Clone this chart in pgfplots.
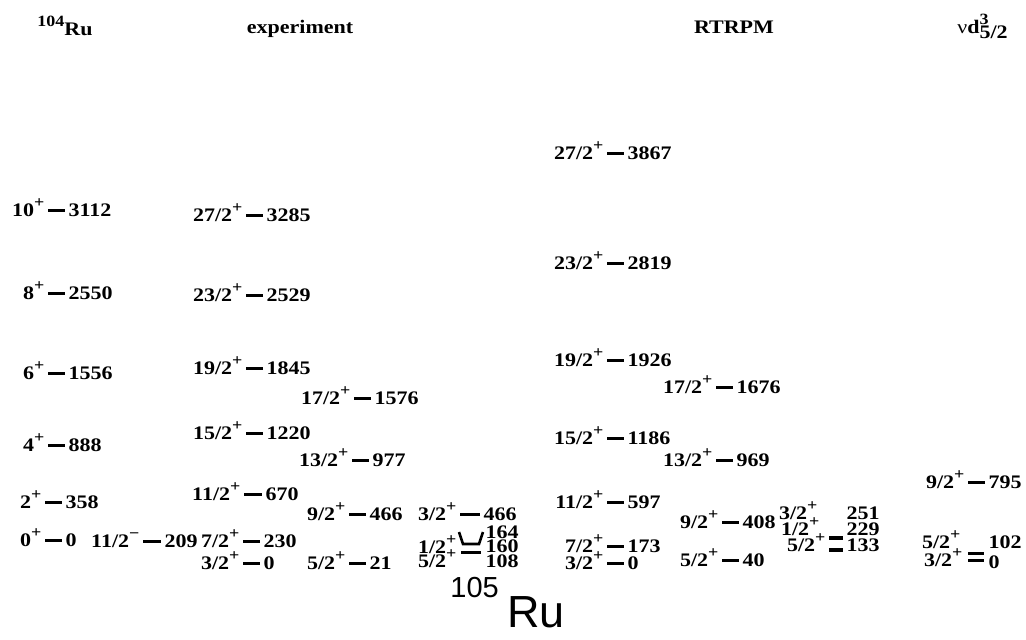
\documentclass[border=0pt]{standalone}
\usepackage{fontspec}
\setmainfont{Liberation Serif}
\newfontfamily\sansRu{Liberation Sans}
\usepackage{graphicx}
\usepackage{pgfplots}
\pgfplotsset{compat=1.18}

% text of the scheme is bold Times, slightly squat
\newcommand{\T}[1]{\scalebox{1}[0.87]{#1}}
\newcommand{\up}[1]{\raisebox{0.45em}{\fontsize{9}{9}\selectfont #1}}
\tikzset{
  lvl/.style={line width=1.5pt, black},
  spin/.style={anchor=base east, inner sep=0pt, xshift=-1.6pt, yshift=-3.2pt,
               font=\bfseries\fontsize{11}{12}\selectfont},
  ener/.style={anchor=base west, inner sep=0pt, xshift=1.6pt, yshift=-3.2pt,
               font=\bfseries\fontsize{11}{12}\selectfont},
}
% \lev{x1}{x2}{y}{J}{parity}{E}: one level, positions in picture pixels
\newcommand{\lev}[6]{%
  \addplot[lvl] coordinates {(#1,#3) (#2,#3)};
  \node[spin] at (axis cs:#1,#3) {\T{#4\up{#5}}};
  \node[ener] at (axis cs:#2,#3) {\T{#6}};
}

\begin{document}
\begin{tikzpicture}
\begin{axis}[
    width=513pt, height=319.5pt,
    scale only axis,
    xmin=0, xmax=1026,
    ymin=0, ymax=639,
    y dir=reverse,
    hide axis,
    clip=false,
]
\addplot[draw=none] coordinates {(0,0) (1026,639)};

% column headers
\node[anchor=base west, inner sep=0pt, font=\bfseries\fontsize{11}{12}\selectfont]
    at (axis cs:37,35) {\T{\up{104}Ru}};
\node[anchor=base, inner sep=0pt, font=\bfseries\fontsize{11}{12}\selectfont]
    at (axis cs:300,33) {\T{experiment}};
\node[anchor=base, inner sep=0pt, font=\bfseries\fontsize{11}{12}\selectfont]
    at (axis cs:734,33) {\T{RTRPM}};
\node[anchor=base west, inner sep=0pt, font=\bfseries\fontsize{11}{12}\selectfont]
    at (axis cs:957,33) {\T{{\mdseries ν}d\rlap{\up{3}}\raisebox{-0.3em}{5/2}}};

% 104Ru
\lev{48}{65}{210}{10}{+}{3112}
\lev{48}{65}{293}{8}{+}{2550}
\lev{48}{65}{373}{6}{+}{1556}
\lev{48}{65}{445}{4}{+}{888}
\lev{45}{62}{502}{2}{+}{358}
\lev{45}{62}{540}{0}{+}{0}

% 105Ru experiment
\lev{143}{161}{541}{11/2}{−}{209}
\lev{246}{263}{215}{27/2}{+}{3285}
\lev{246}{263}{295}{23/2}{+}{2529}
\lev{246}{263}{368}{19/2}{+}{1845}
\lev{246}{263}{433}{15/2}{+}{1220}
\lev{244}{262}{494}{11/2}{+}{670}
\lev{243}{260}{541}{7/2}{+}{230}
\lev{243}{260}{563}{3/2}{+}{0}
\lev{354}{371}{398}{17/2}{+}{1576}
\lev{352}{369}{460}{13/2}{+}{977}
\lev{349}{366}{514}{9/2}{+}{466}
\lev{349}{366}{563}{5/2}{+}{21}
\lev{460}{480}{514}{3/2}{+}{466}
% close levels 108, 160, 164
\addplot[line width=1.3pt] coordinates {(459,532) (463,544) (479,544) (483,532)};
\addplot[lvl] coordinates {(461,552) (481,552)};
\node[spin] at (axis cs:460,547) {\T{1/2\up{+}}};
\node[spin] at (axis cs:460,561) {\T{5/2\up{+}}};
\node[ener] at (axis cs:482,532) {\T{164}};
\node[ener] at (axis cs:482,546) {\T{160}};
\node[ener] at (axis cs:482,561) {\T{108}};

% RTRPM
\lev{607}{624}{153}{27/2}{+}{3867}
\lev{607}{624}{263}{23/2}{+}{2819}
\lev{607}{624}{360}{19/2}{+}{1926}
\lev{607}{624}{438}{15/2}{+}{1186}
\lev{607}{624}{502}{11/2}{+}{597}
\lev{607}{624}{546}{7/2}{+}{173}
\lev{607}{624}{563}{3/2}{+}{0}
\lev{716}{733}{387}{17/2}{+}{1676}
\lev{716}{733}{460}{13/2}{+}{969}
\lev{722}{739}{522}{9/2}{+}{408}
\lev{722}{739}{560}{5/2}{+}{40}
% close levels 133, 229, 251
\addplot[line width=1.9pt] coordinates {(829,538) (843,538)};
\addplot[line width=1.9pt] coordinates {(829,550) (843,550)};
\node[spin] at (axis cs:821,513) {\T{3/2\up{+}}};
\node[spin] at (axis cs:823,529) {\T{1/2\up{+}}};
\node[spin] at (axis cs:829,545) {\T{5/2\up{+}}};
\node[ener] at (axis cs:843,513) {\T{251}};
\node[ener] at (axis cs:843,529) {\T{229}};
\node[ener] at (axis cs:843,545) {\T{133}};

% nu d5/2^3
\lev{968}{985}{482}{9/2}{+}{795}
\addplot[lvl] coordinates {(968,553) (984,553)};
\addplot[lvl] coordinates {(968,560) (984,560)};
\node[spin] at (axis cs:964,542) {\T{5/2\up{+}}};
\node[spin] at (axis cs:966,560) {\T{3/2\up{+}}};
\node[ener] at (axis cs:985,542) {\T{102}};
\node[ener] at (axis cs:985,562) {\T{0}};

% nucleus label
\node[anchor=base west, inner sep=0pt, font=\sansRu\fontsize{14.5}{16}\selectfont]
    at (axis cs:450,597) {105};
\node[anchor=base west, inner sep=0pt, font=\sansRu\fontsize{22.5}{24}\selectfont]
    at (axis cs:507,627) {Ru};
\end{axis}
\end{tikzpicture}
\end{document}
